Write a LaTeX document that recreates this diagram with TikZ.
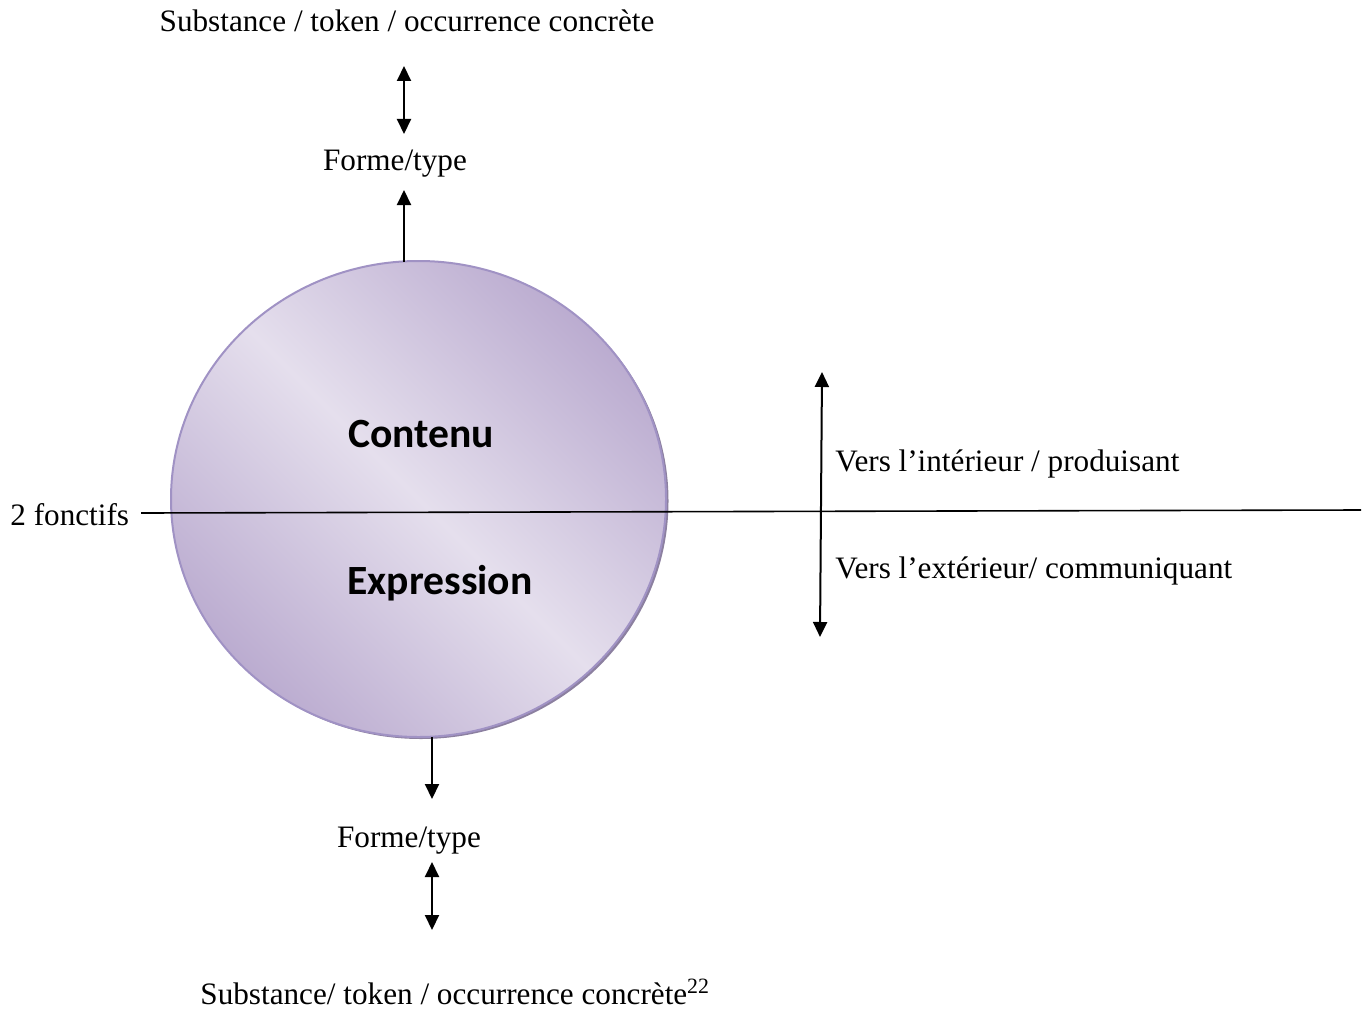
\documentclass[tikz,border=0pt]{standalone}
\usepackage{fontspec}
\setmainfont{Liberation Serif}
\newfontfamily\calib{Carlito}
\usetikzlibrary{arrows.meta}
\definecolor{lavdark}{RGB}{187,172,208}
\definecolor{lavlight}{RGB}{229,223,237}
\definecolor{lavedge}{RGB}{160,146,196}
\definecolor{lavshadow}{RGB}{140,128,160}
\begin{document}
\begin{tikzpicture}[x=0.5pt,y=-0.5pt,
  txt/.style={font=\fontsize{15.6pt}{18pt}\selectfont, inner sep=0pt},
  big/.style={font=\calib\bfseries\fontsize{20.8pt}{24pt}\selectfont, inner sep=0pt},
  conn/.style={line width=1pt},
  tip/.style={-{Triangle[length=7.5pt,width=7pt]}},
  tips/.style={{Triangle[length=7.5pt,width=7pt]}-{Triangle[length=7.5pt,width=7pt]}}]
\useasboundingbox (0,0) rectangle (1369,1011);
% shadow
\fill[lavshadow] (421,501) ellipse [x radius=247.5, y radius=238];
% circle
\shade[top color=lavdark, bottom color=lavdark, middle color=lavlight, shading angle=-45]
  (418.5,499) ellipse [x radius=247.5, y radius=238];
\draw[lavedge, line width=1pt] (418.5,499) ellipse [x radius=247.5, y radius=238];
\node[draw=none, minimum width=0pt] (circ) at (418.5,499) {};
% texts
\node[txt, anchor=base] (stop) at (407,32) {Substance / token / occurrence concrète};
\node[txt, anchor=base] (ftop) at (395,170) {Forme/type};
\node[big, anchor=base] (cont) at (421,447) {Contenu};
\node[big, anchor=base] (expr) at (440,594) {Expression};
\node[txt, anchor=base west] (fonc) at (10,525) {2 fonctifs};
\node[txt, anchor=base west] (vint) at (835,471) {Vers l’intérieur / produisant};
\node[txt, anchor=base west] (vext) at (835,578) {Vers l’extérieur/ communiquant};
\node[txt, anchor=base] (fbot) at (409,847) {Forme/type};
\node[txt, anchor=base west] (sbot) at (200,1004) {Substance/ token / occurrence concrète\textsuperscript{22}};
% coordinates
\coordinate (t1) at (404,66);
\coordinate (t2) at (404,134);
\coordinate (t3) at (404,262);
\coordinate (t4) at (404,190);
\coordinate (b1) at (432,737);
\coordinate (b2) at (432,799);
\coordinate (b3) at (432,862);
\coordinate (b4) at (432,930);
\coordinate (hl) at (141,513);
\coordinate (hr) at (1361,510);
\coordinate (r1) at (822,372);
\coordinate (r2) at (820,637);
% connectors
\draw[conn, tips] (t1) -- (t2);
\draw[conn, tip] (t3) -- (t4);
\draw[conn, tip] (b1) -- (b2);
\draw[conn, tips] (b3) -- (b4);
\draw[conn, line width=0.8pt] (hl) -- (hr);
\draw[conn, tips] (r1) -- (r2);
\end{tikzpicture}
\end{document}
